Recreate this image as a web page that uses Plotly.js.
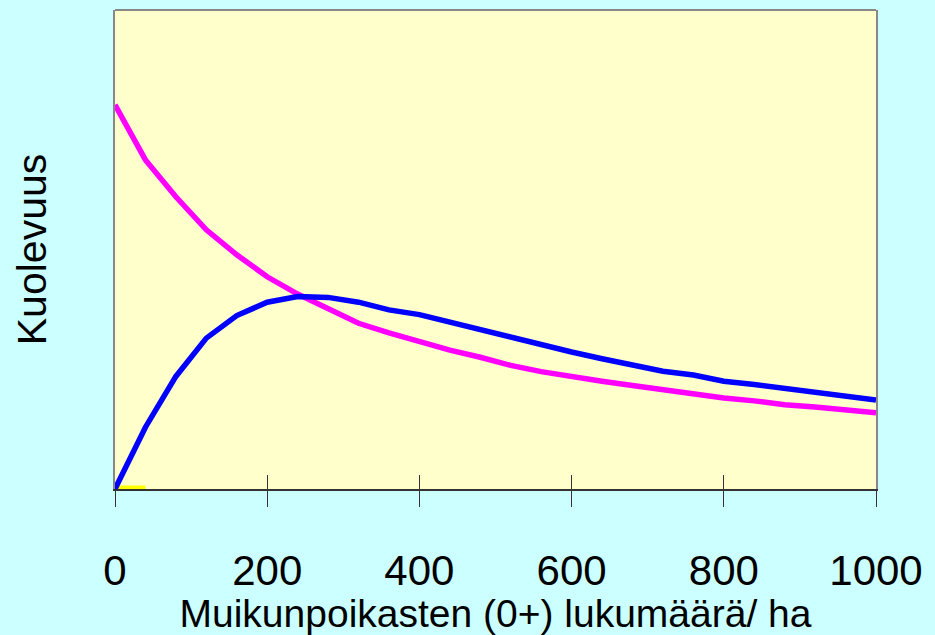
<!DOCTYPE html>
<html>
<head>
<meta charset="utf-8">
<script src="https://cdn.plot.ly/plotly-3.0.1.min.js"></script>
<style>
  html, body { margin: 0; padding: 0; background: #CCFFFF; }
  #chart { width: 935px; height: 635px; }
</style>
</head>
<body>
<div id="chart"></div>
<script>
// Density of vendace fry (0+) per ha
var density = [0, 40, 80, 120, 160, 200, 240, 280, 320, 360, 400, 440, 480, 520,
               560, 600, 640, 680, 720, 760, 800, 840, 880, 920, 960, 1000];
// Mortality curves (relative units, no scale shown)
var mortalityMagenta = [80.2, 68.7, 61.0, 54.1, 48.9, 44.3, 40.7, 37.5, 34.6, 32.6, 30.7, 29.0, 27.5, 25.8,
                        24.5, 23.4, 22.5, 21.6, 20.7, 19.9, 19.0, 18.4, 17.6, 17.1, 16.5, 15.9];
var mortalityBlue = [0, 12.9, 23.5, 31.5, 36.2, 39.0, 40.2, 40.0, 39.0, 37.4, 36.4, 34.8, 33.2, 31.6,
                     30.1, 28.6, 27.2, 26.0, 24.6, 23.8, 22.5, 21.8, 21.0, 20.3, 19.5, 18.6];
// Short yellow series at the origin
var yellowX = [0, 40];
var yellowY = [0, 0];

var tickVals = [0, 200, 400, 600, 800, 1000];
var tickText = ['0', '200', '400', '600', '800', '1000'];

var traces = [
  {x: yellowX, y: yellowY, type: 'scatter', mode: 'lines',
   line: {color: '#FFFF00', width: 7}, hoverinfo: 'skip', showlegend: false},
  {x: density, y: mortalityMagenta, type: 'scatter', mode: 'lines',
   line: {color: '#FF00FF', width: 5.5}, showlegend: false},
  {x: density, y: mortalityBlue, type: 'scatter', mode: 'lines',
   line: {color: '#0000FF', width: 5.5}, showlegend: false}
];

var layout = {
  width: 935, height: 635,
  paper_bgcolor: '#CCFFFF',
  plot_bgcolor: '#FFFFCC',
  margin: {l: 115, r: 59, t: 10, b: 146},
  font: {family: 'Liberation Sans, Arial, sans-serif', color: '#000000'},
  showlegend: false,
  xaxis: {
    range: [0, 1000], tickvals: tickVals, ticktext: tickText,
    showgrid: false, zeroline: false,
    ticks: 'outside', ticklen: 16, tickwidth: 1, tickcolor: '#333333',
    showline: true, linecolor: '#333333', linewidth: 2,
    tickfont: {size: 42, family: 'Liberation Sans, Arial, sans-serif'},
    ticklabelstandoff: 28,
    title: {text: 'Muikunpoikasten (0+) lukumäärä/ ha',
            font: {size: 39, family: 'Liberation Sans, Arial, sans-serif'}, standoff: 2}
  },
  xaxis2: {
    overlaying: 'x', matches: 'x', side: 'bottom', range: [0, 1000],
    tickvals: tickVals, showticklabels: false, showgrid: false, zeroline: false,
    ticks: 'inside', ticklen: 14, tickwidth: 1, tickcolor: '#333333', showline: false
  },
  yaxis: {
    range: [0, 100], showticklabels: false, ticks: '', showgrid: false, zeroline: false,
    showline: true, linecolor: '#888888', linewidth: 2, mirror: true,
    title: {text: 'Kuolevuus', font: {size: 41, family: 'Liberation Sans, Arial, sans-serif'}, standoff: 54}
  },
  shapes: [
    {type: 'line', xref: 'paper', yref: 'paper', x0: 0, x1: 1, y0: 1, y1: 1,
     line: {color: '#888888', width: 2}}
  ]
};

// an invisible trace to activate the inside-tick overlay axis
traces.push({x: [0, 1000], y: [null, null], xaxis: 'x2', type: 'scatter', mode: 'lines',
             hoverinfo: 'skip', showlegend: false});

Plotly.newPlot('chart', traces, layout, {displayModeBar: false, staticPlot: true});
</script>
</body>
</html>
